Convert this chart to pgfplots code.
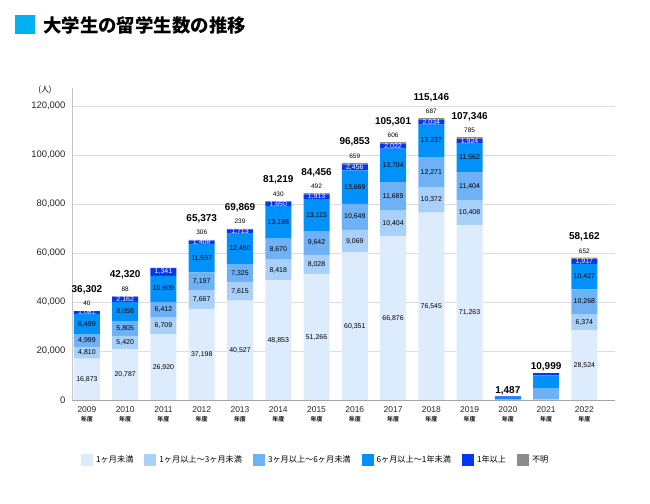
\documentclass[border=0pt]{standalone}
\usepackage{pgfplots}
\pgfplotsset{compat=1.18}
\usepackage{fontspec}
\setmainfont{Liberation Sans}
\newfontfamily\cjk{Noto Sans CJK JP}
\definecolor{cA}{HTML}{DDECFD}
\definecolor{cB}{HTML}{A8D0F8}
\definecolor{cC}{HTML}{6EB2F5}
\definecolor{cD}{HTML}{0092FA}
\definecolor{cE}{HTML}{0536F5}
\definecolor{cF}{HTML}{8C8C8C}
\definecolor{titlebox}{HTML}{00B0F0}
\definecolor{gridc}{HTML}{DCDCDC}
\NewDocumentCommand\tot{mm}{\begin{tabular}{@{}c@{}}{\fontsize{10}{11}\selectfont\bfseries #1}\\[1.5bp]{\fontsize{6.5}{7}\selectfont #2}\end{tabular}}
\NewDocumentCommand\totonly{m}{{\fontsize{10}{11}\selectfont\bfseries #1}}
\NewDocumentCommand\nd{}{{\cjk\bfseries\fontsize{6}{7}\selectfont 年度}}
\pgfplotsset{
  seg/.style={fill=#1, draw=none,
    nodes near coords, point meta=explicit symbolic,
    every node near coord/.append style={anchor=center, inner sep=0pt,
      font=\fontsize{7}{8}\selectfont, text=black}},
}
\begin{document}
\begin{tikzpicture}
\path[use as bounding box] (0,0) rectangle (650bp,504bp);
\fill[titlebox] (15bp,470bp) rectangle (35bp,489bp);
\node[anchor=west, inner sep=0pt] at (43bp,479bp) {\cjk\bfseries\fontsize{18.5}{20}\selectfont 大学生の留学生数の推移};
\node[inner sep=0pt] at (45bp,414bp) {\cjk\fontsize{8}{9}\selectfont (人)};
\begin{axis}[
  at={(72bp,104bp)}, anchor=south west,
  scale only axis, width=543bp, height=312bp,
  ybar stacked, bar width=26bp,
  xmin=-0.39, xmax=13.8, ymin=0, ymax=127400,
  xtick={0,...,13},
  xticklabels={{2009\\\nd},{2010\\\nd},{2011\\\nd},{2012\\\nd},{2013\\\nd},{2014\\\nd},{2015\\\nd},{2016\\\nd},{2017\\\nd},{2018\\\nd},{2019\\\nd},{2020\\\nd},{2021\\\nd},{2022\\\nd}},
  xticklabel style={align=center, font=\fontsize{8.5}{8.5}\selectfont, text=black!85, yshift=-3.5bp},
  ytick={0,20000,40000,60000,80000,100000,120000},
  scaled y ticks=false,
  yticklabel style={font=\fontsize{9.5}{10}\selectfont, text=black!85, xshift=-3bp,
    /pgf/number format/fixed, /pgf/number format/precision=0,
    /pgf/number format/1000 sep={,}, /pgf/number format/assume math mode=true},
  ymajorgrids, grid style={gridc, line width=0.6bp},
  axis x line*=bottom, axis y line*=left,
  x axis line style={gray!70}, y axis line style={gray!45},
  tick style={draw=none},
  legend columns=6,
  legend style={at={(0.0166,-0.1923)}, anchor=west, draw=none, fill=none, inner sep=0pt,
    font=\cjk\fontsize{8.2}{9}\selectfont,
    nodes={inner xsep=3bp, inner ysep=1bp},
    /tikz/every even column/.append style={column sep=8bp}},
  legend image code/.code={\fill[#1] (0bp,-6bp) rectangle (12bp,6bp);},
]
\addplot[seg=cA] coordinates {(0,16873)[16,873] (1,20787)[20,787] (2,26920)[26,920] (3,37198)[37,198] (4,40527)[40,527] (5,48853)[48,853] (6,51266)[51,266] (7,60351)[60,351] (8,66876)[66,876] (9,76545)[76,545] (10,71263)[71,263] (11,20)[] (12,50)[] (13,28524)[28,524]};
\addlegendentry{1ヶ月未満}
\addplot[seg=cB] coordinates {(0,4810)[4,810] (1,5420)[5,420] (2,6709)[6,709] (3,7667)[7,667] (4,7615)[7,615] (5,8418)[8,418] (6,8028)[8,028] (7,9069)[9,069] (8,10404)[10,404] (9,10372)[10,372] (10,10408)[10,408] (11,80)[] (12,300)[] (13,6374)[6,374]};
\addlegendentry{1ヶ月以上～3ヶ月未満}
\addplot[seg=cC] coordinates {(0,4999)[4,999] (1,5805)[5,805] (2,6412)[6,412] (3,7197)[7,197] (4,7325)[7,325] (5,8670)[8,670] (6,9642)[9,642] (7,10649)[10,649] (8,11689)[11,689] (9,12271)[12,271] (10,11404)[11,404] (11,250)[] (12,4300)[] (13,10268)[10,268]};
\addlegendentry{3ヶ月以上～6ヶ月未満}
\addplot[seg=cD] coordinates {(0,8499)[8,499] (1,8058)[8,058] (2,10609)[10,609] (3,11597)[11,597] (4,12450)[12,450] (5,13198)[13,198] (6,13115)[13,115] (7,13669)[13,669] (8,13704)[13,704] (9,13237)[13,237] (10,11562)[11,562] (11,800)[] (12,5450)[] (13,10427)[10,427]};
\addlegendentry{6ヶ月以上～1年未満}
\addplot[seg=cE, every node near coord/.append style={text=white}] coordinates {(0,1081)[1,081] (1,2162)[2,162] (2,3341)[1,341] (3,1408)[1,408] (4,1713)[1,713] (5,1650)[1,650] (6,1913)[1,913] (7,2456)[2,456] (8,2022)[2,022] (9,2034)[2,034] (10,1924)[1,924] (11,330)[] (12,850)[] (13,1917)[1,917]};
\addlegendentry{1年以上}
\addplot[fill=cF, draw=none, nodes near coords, point meta=explicit symbolic,
  every node near coord/.append style={anchor=south, inner sep=1.5bp, text=black}]
  coordinates {(0,40)[\tot{36,302}{40}] (1,88)[\tot{42,320}{88}] (2,0)[\tot{53,991}{0}] (3,306)[\tot{65,373}{306}] (4,239)[\tot{69,869}{239}] (5,430)[\tot{81,219}{430}] (6,492)[\tot{84,456}{492}] (7,659)[\tot{96,853}{659}] (8,606)[\tot{105,301}{606}] (9,687)[\tot{115,146}{687}] (10,785)[\tot{107,346}{785}] (11,7)[\totonly{1,487}] (12,49)[\totonly{10,999}] (13,652)[\tot{58,162}{652}]};
\addlegendentry{不明}
\end{axis}
\end{tikzpicture}
\end{document}
